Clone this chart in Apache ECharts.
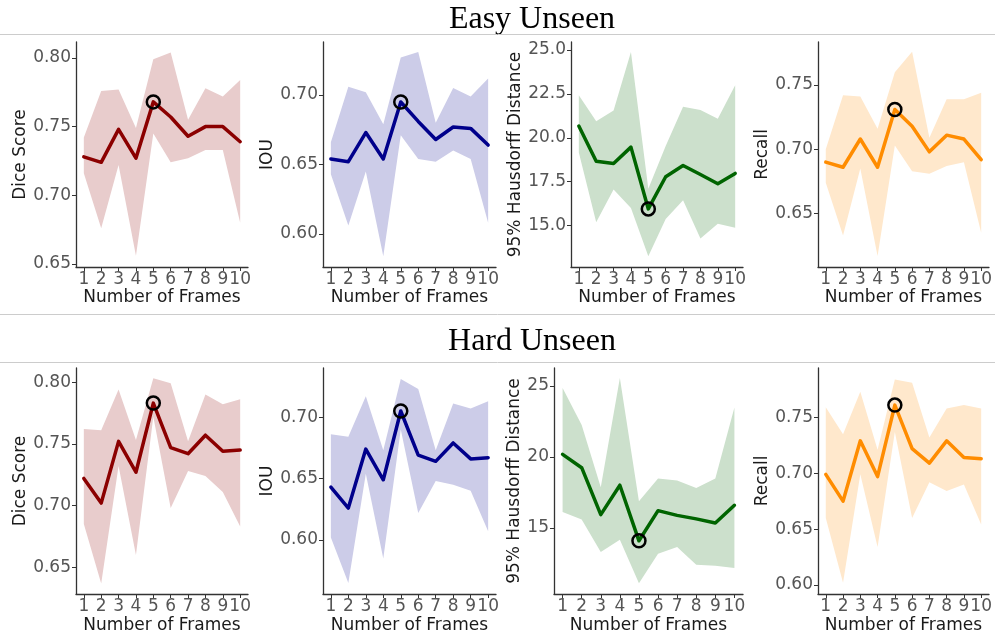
<!DOCTYPE html>
<html>
<head>
<meta charset="utf-8">
<script src="https://cdn.jsdelivr.net/npm/echarts@6/dist/echarts.min.js"></script>
<style>
  html, body { margin: 0; padding: 0; background: #fff; }
  #chart { width: 995px; height: 639px; }
</style>
</head>
<body>
<div id="chart"></div>
<script>
// 横轴: 帧数
const frames = [1, 2, 3, 4, 5, 6, 7, 8, 9, 10];

// Easy Unseen
const easyDiceMean = [0.728, 0.724, 0.748, 0.727, 0.768, 0.757, 0.743, 0.750, 0.750, 0.739];
const easyDiceLow  = [0.716, 0.676, 0.722, 0.656, 0.745, 0.724, 0.727, 0.733, 0.733, 0.680];
const easyDiceHigh = [0.742, 0.776, 0.777, 0.749, 0.799, 0.804, 0.755, 0.778, 0.772, 0.784];

const easyIouMean = [0.654, 0.652, 0.673, 0.654, 0.695, 0.681, 0.668, 0.677, 0.676, 0.664];
const easyIouLow  = [0.643, 0.606, 0.645, 0.584, 0.671, 0.654, 0.652, 0.660, 0.654, 0.608];
const easyIouHigh = [0.666, 0.706, 0.702, 0.679, 0.727, 0.731, 0.680, 0.705, 0.699, 0.712];

const easyHdMean = [20.67, 18.67, 18.54, 19.47, 15.95, 17.78, 18.42, 17.91, 17.38, 17.97];
const easyHdLow  = [19.16, 15.19, 17.06, 16.00, 13.25, 15.38, 16.44, 14.26, 15.10, 14.87];
const easyHdHigh = [22.43, 20.95, 21.56, 24.89, 17.10, 19.53, 21.77, 21.58, 21.08, 22.99];

const easyRecallMean = [0.690, 0.686, 0.708, 0.686, 0.731, 0.718, 0.698, 0.711, 0.708, 0.692];
const easyRecallLow  = [0.674, 0.633, 0.685, 0.617, 0.703, 0.683, 0.681, 0.687, 0.690, 0.635];
const easyRecallHigh = [0.700, 0.742, 0.741, 0.716, 0.760, 0.776, 0.709, 0.739, 0.739, 0.744];

// Hard Unseen
const hardDiceMean = [0.722, 0.702, 0.752, 0.727, 0.783, 0.747, 0.742, 0.757, 0.744, 0.745];
const hardDiceLow  = [0.685, 0.637, 0.732, 0.660, 0.772, 0.698, 0.728, 0.724, 0.711, 0.683];
const hardDiceHigh = [0.762, 0.761, 0.794, 0.753, 0.803, 0.799, 0.752, 0.790, 0.782, 0.786];

const hardIouMean = [0.643, 0.626, 0.674, 0.649, 0.705, 0.669, 0.664, 0.679, 0.666, 0.667];
const hardIouLow  = [0.602, 0.565, 0.654, 0.585, 0.690, 0.622, 0.648, 0.645, 0.640, 0.607];
const hardIouHigh = [0.686, 0.684, 0.717, 0.673, 0.731, 0.723, 0.673, 0.711, 0.707, 0.713];

const hardHdMean = [20.18, 19.24, 15.94, 18.01, 14.10, 16.22, 15.89, 15.64, 15.35, 16.60];
const hardHdLow  = [16.13, 15.59, 13.31, 14.18, 11.12, 13.19, 13.66, 12.41, 12.34, 12.18];
const hardHdHigh = [24.84, 22.25, 17.87, 25.54, 16.88, 18.48, 18.34, 17.82, 18.48, 23.47];

const hardRecallMean = [0.699, 0.675, 0.729, 0.697, 0.761, 0.722, 0.709, 0.729, 0.714, 0.713];
const hardRecallLow  = [0.660, 0.602, 0.699, 0.634, 0.737, 0.660, 0.692, 0.684, 0.690, 0.654];
const hardRecallHigh = [0.759, 0.735, 0.773, 0.721, 0.784, 0.781, 0.732, 0.758, 0.761, 0.758];

// 纵轴刻度
const easyDiceTicks = [0.65, 0.70, 0.75, 0.80];
const easyIouTicks = [0.60, 0.65, 0.70];
const easyHdTicks = [15.0, 17.5, 20.0, 22.5, 25.0];
const easyRecallTicks = [0.65, 0.70, 0.75];
const hardDiceTicks = [0.65, 0.70, 0.75, 0.80];
const hardIouTicks = [0.60, 0.65, 0.70];
const hardHdTicks = [15, 20, 25];
const hardRecallTicks = [0.60, 0.65, 0.70, 0.75];

const titles = ['Easy Unseen', 'Hard Unseen'];

// 颜色: 线 + 阴影 (阴影 = 线色 20% 叠在白底上)
const DICE = { name: 'Dice Score', color: '#8b0000', fill: 'rgb(232,204,204)', best: 'max' };
const IOU = { name: 'IOU', color: '#00008b', fill: 'rgb(204,204,232)', best: 'max' };
const HD = { name: '95% Hausdorff Distance', color: '#006400', fill: 'rgb(204,224,204)', best: 'min' };
const REC = { name: 'Recall', color: '#ff8c00', fill: 'rgb(255,232,204)', best: 'max' };

// 每个子图: 数据 + 位置
const panels = [
    { m: DICE, mean: easyDiceMean, low: easyDiceLow, high: easyDiceHigh, ticks: easyDiceTicks, digits: 2,
      min: 0.6478, max: 0.8116, left: 76, top: 42, width: 172, height: 225, gap: 47 },
    { m: IOU, mean: easyIouMean, low: easyIouLow, high: easyIouHigh, ticks: easyIouTicks, digits: 2,
      min: 0.5762, max: 0.7382, left: 323, top: 42, width: 173, height: 225, gap: 47 },
    { m: HD, mean: easyHdMean, low: easyHdLow, high: easyHdHigh, ticks: easyHdTicks, digits: 1,
      min: 12.64, max: 25.46, left: 571, top: 42, width: 172, height: 225, gap: 47 },
    { m: REC, mean: easyRecallMean, low: easyRecallLow, high: easyRecallHigh, ticks: easyRecallTicks, digits: 2,
      min: 0.6084, max: 0.7835, left: 818, top: 42, width: 173, height: 225, gap: 47 },
    { m: DICE, mean: hardDiceMean, low: hardDiceLow, high: hardDiceHigh, ticks: hardDiceTicks, digits: 2,
      min: 0.6284, max: 0.8114, left: 76, top: 368, width: 172, height: 226, gap: 47 },
    { m: IOU, mean: hardIouMean, low: hardIouLow, high: hardIouHigh, ticks: hardIouTicks, digits: 2,
      min: 0.556, max: 0.740, left: 323, top: 368, width: 173, height: 226, gap: 47 },
    { m: HD, mean: hardHdMean, low: hardHdLow, high: hardHdHigh, ticks: hardHdTicks, digits: 0,
      min: 10.36, max: 26.25, left: 554, top: 368, width: 189, height: 226, gap: 31 },
    { m: REC, mean: hardRecallMean, low: hardRecallLow, high: hardRecallHigh, ticks: hardRecallTicks, digits: 2,
      min: 0.5919, max: 0.7942, left: 818, top: 368, width: 173, height: 226, gap: 47 }
];

const font = 'DejaVu Sans';
const axisColor = '#333';

let grid = [], xAxis = [], yAxis = [], series = [];

panels.forEach((p, i) => {
    grid.push({ left: p.left, top: p.top, width: p.width, height: p.height, containLabel: false });

    xAxis.push({
        type: 'value', gridIndex: i, min: 0.55, max: 10.45,
        name: 'Number of Frames', nameLocation: 'middle', nameGap: i < 4 ? 22 : 23,
        nameTextStyle: { fontFamily: font, fontSize: 17, color: '#1a1a1a' },
        axisLine: { show: true, onZero: false, lineStyle: { color: axisColor, width: 1.3 } },
        axisTick: { show: true, length: 4, customValues: frames, lineStyle: { color: axisColor } },
        axisLabel: { customValues: frames, margin: 4, fontFamily: font, fontSize: 17, color: '#555' },
        splitLine: { show: false }
    });

    yAxis.push({
        type: 'value', gridIndex: i, min: p.min, max: p.max,
        name: p.m.name, nameLocation: 'middle', nameGap: p.gap,
        nameTextStyle: { fontFamily: font, fontSize: 17, color: '#1a1a1a' },
        axisLine: { show: true, onZero: false, lineStyle: { color: axisColor, width: 1.3 } },
        axisTick: { show: true, length: 4, customValues: p.ticks, lineStyle: { color: axisColor } },
        axisLabel: {
            customValues: p.ticks, margin: 5, fontFamily: font, fontSize: 17, color: '#555',
            formatter: v => Number(v).toFixed(p.digits)
        },
        splitLine: { show: false }
    });

    // 阴影带: 下界 -> 上界 多边形
    series.push({
        type: 'custom', xAxisIndex: i, yAxisIndex: i, z: 1, silent: true,
        data: frames.map((f, k) => [f, p.low[k], p.high[k]]),
        encode: { x: 0, y: [1, 2] },
        renderItem: (params, api) => {
            if (params.dataIndex !== 0) return null;
            let pts = [];
            frames.forEach((f, k) => pts.push(api.coord([f, p.high[k]])));
            for (let k = frames.length - 1; k >= 0; k--) pts.push(api.coord([frames[k], p.low[k]]));
            return { type: 'polygon', shape: { points: pts }, style: { fill: p.m.fill } };
        }
    });

    // 均值曲线
    series.push({
        type: 'line', xAxisIndex: i, yAxisIndex: i,
        data: frames.map((f, k) => [f, p.mean[k]]),
        showSymbol: false, z: 3,
        lineStyle: { color: p.m.color, width: 3.5, cap: 'round', join: 'round' }
    });

    // 最优点圆圈
    let best = 0;
    p.mean.forEach((v, k) => {
        if (p.m.best == 'max' ? v > p.mean[best] : v < p.mean[best]) best = k;
    });
    series.push({
        type: 'scatter', xAxisIndex: i, yAxisIndex: i, z: 4,
        data: [[frames[best], p.mean[best]]],
        symbol: 'circle', symbolSize: 13,
        itemStyle: { color: 'rgba(0,0,0,0)', borderColor: '#000', borderWidth: 2.5, opacity: 1 }
    });
});

let myChart = echarts.init(document.getElementById('chart'));

myChart.setOption({
    animation: false,
    backgroundColor: '#fff',
    grid: grid,
    xAxis: xAxis,
    yAxis: yAxis,
    series: series,
    graphic: [
        { type: 'text', x: 532, y: 20, style: { text: titles[0],
            font: '32px "Liberation Serif"', fill: '#000', align: 'center', verticalAlign: 'middle' } },
        { type: 'text', x: 532, y: 342, style: { text: titles[1],
            font: '32px "Liberation Serif"', fill: '#000', align: 'center', verticalAlign: 'middle' } },
        { type: 'line', shape: { x1: 0, y1: 34.5, x2: 995, y2: 34.5 }, style: { stroke: '#cccccc', lineWidth: 1 } },
        { type: 'line', shape: { x1: 0, y1: 314.5, x2: 995, y2: 314.5 }, style: { stroke: '#cccccc', lineWidth: 1 } },
        { type: 'line', shape: { x1: 0, y1: 362.5, x2: 995, y2: 362.5 }, style: { stroke: '#cccccc', lineWidth: 1 } }
    ]
});
</script>
</body>
</html>
